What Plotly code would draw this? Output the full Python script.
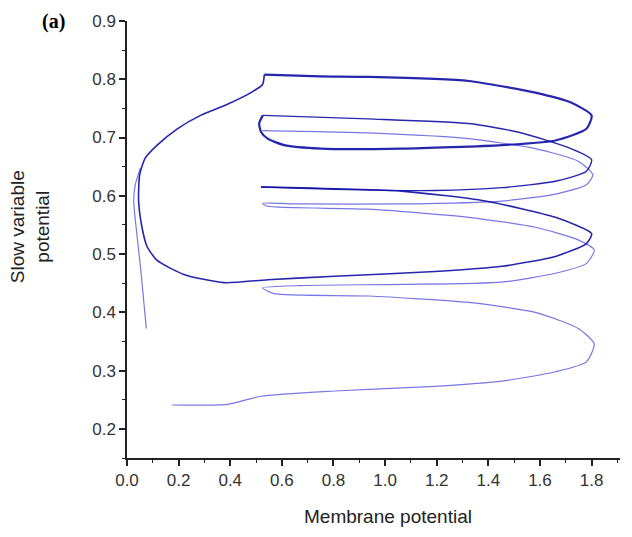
import plotly.graph_objects as go

# --- data (membrane potential x, slow variable y) ---
# dark loop starting at 0.615, turning near 0.53, returning along the left branch up to the top jump
loop3_x = [0.519, 1.063, 1.388, 1.66, 1.80, 1.78, 1.66, 1.453, 1.193, 0.804, 0.545, 0.376,
           0.22, 0.117, 0.078, 0.058, 0.045, 0.049, 0.071, 0.117, 0.195, 0.285, 0.389, 0.48, 0.525, 0.532]
loop3_y = [0.615, 0.608, 0.591, 0.563, 0.535, 0.518, 0.496, 0.479, 0.470, 0.462, 0.456, 0.451,
           0.465, 0.489, 0.5125, 0.546, 0.591, 0.636, 0.665, 0.687, 0.715, 0.738, 0.757, 0.777, 0.791, 0.808]

# big top loop
top_x = [0.532, 0.75, 0.934, 1.323, 1.582, 1.72, 1.80, 1.78, 1.66, 1.453, 1.063, 0.752, 0.609, 0.545, 0.52, 0.512, 0.526]
top_y = [0.808, 0.805, 0.804, 0.797, 0.777, 0.760, 0.738, 0.715, 0.695, 0.687, 0.681, 0.681, 0.687, 0.698, 0.709, 0.724, 0.738]

# dark loop starting at 0.738 turning near 0.66
loop2_x = [0.526, 0.934, 1.323, 1.518, 1.72, 1.80, 1.78, 1.66, 1.453, 1.193, 0.804, 0.519]
loop2_y = [0.738, 0.732, 0.724, 0.709, 0.681, 0.662, 0.642, 0.625, 0.614, 0.609, 0.611, 0.615]

# light trajectory: 0.712 line down through the lower loops to the bottom
light_x = [0.525, 0.934, 1.323, 1.582, 1.75, 1.805, 1.78, 1.66, 1.453, 1.063, 0.674, 0.525,
           0.545, 0.934, 1.323, 1.582, 1.75, 1.81, 1.78, 1.66, 1.453, 1.063, 0.674, 0.525,
           0.57, 0.934, 1.323, 1.582, 1.75, 1.81, 1.78, 1.66, 1.453, 1.193, 0.804, 0.519,
           0.389, 0.175]
light_y = [0.712, 0.708, 0.698, 0.681, 0.659, 0.636, 0.619, 0.603, 0.591, 0.586, 0.586, 0.587,
           0.582, 0.577, 0.563, 0.546, 0.524, 0.507, 0.484, 0.467, 0.452, 0.448, 0.446, 0.442,
           0.432, 0.428, 0.417, 0.400, 0.372, 0.346, 0.315, 0.298, 0.282, 0.273, 0.265, 0.256,
           0.242, 0.241]

# thin transient on the far left
tail_x = [0.075, 0.052, 0.026, 0.032, 0.052]
tail_y = [0.372, 0.479, 0.591, 0.619, 0.648]

x_ticks = [0.0, 0.2, 0.4, 0.6, 0.8, 1.0, 1.2, 1.4, 1.6, 1.8]
y_ticks = [0.2, 0.3, 0.4, 0.5, 0.6, 0.7, 0.8, 0.9]

DARK = "rgb(15,15,165)"
LIGHT = "rgb(105,105,225)"

fig = go.Figure()
segs = [
    (light_x, light_y, LIGHT, 1.2),
    (tail_x, tail_y, LIGHT, 1.2),
    (loop2_x, loop2_y, DARK, 1.4),
    (loop3_x, loop3_y, DARK, 1.6),
    (top_x, top_y, DARK, 2.2),
]
for xs, ys, c, w in segs:
    fig.add_trace(go.Scatter(x=xs, y=ys, mode="lines",
                             line=dict(color=c, width=w, shape="spline", smoothing=0.6),
                             opacity=0.9, showlegend=False, hoverinfo="skip"))

axis_font = dict(family="Liberation Sans, Arial, sans-serif", size=17, color="#333")
title_font = dict(family="Liberation Sans, Arial, sans-serif", size=19, color="#222")
fig.update_layout(
    width=632, height=537,
    margin=dict(l=127, r=12, t=14, b=79),
    plot_bgcolor="white", paper_bgcolor="white",
    xaxis=dict(range=[0, 1.91], tickvals=x_ticks, ticktext=[f"{v:.1f}" for v in x_ticks],
               showgrid=False, zeroline=False, showline=True, linecolor="#222", linewidth=1.5,
               ticks="outside", ticklen=6, tickwidth=1.5, tickcolor="#222", tickfont=axis_font,
               minor=dict(dtick=0.1, tick0=0, ticks="outside", ticklen=3, tickwidth=1.2, tickcolor="#222")),
    yaxis=dict(range=[0.15, 0.9], tickvals=y_ticks, ticktext=[f"{v:.1f}" for v in y_ticks],
               showgrid=False, zeroline=False, showline=True, linecolor="#222", linewidth=1.5,
               ticks="outside", ticklen=6, tickwidth=1.5, tickcolor="#222", tickfont=axis_font,
               minor=dict(dtick=0.05, tick0=0, ticks="outside", ticklen=3, tickwidth=1.2, tickcolor="#222")),
    annotations=[
        dict(text="<b>(a)</b>", xref="paper", yref="paper", x=-0.15, y=1.0,
             xanchor="center", yanchor="middle", showarrow=False,
             font=dict(family="Liberation Serif, Times New Roman, serif", size=20, color="#000")),
        dict(text="Membrane potential", xref="paper", yref="paper", x=0.53, y=-0.135,
             xanchor="center", yanchor="middle", showarrow=False, font=title_font),
        dict(text="Slow variable<br>potential", xref="paper", yref="paper", x=-0.195, y=0.53,
             xanchor="center", yanchor="middle", showarrow=False, textangle=-90, font=title_font),
    ],
)

fig.write_html("out.html")
